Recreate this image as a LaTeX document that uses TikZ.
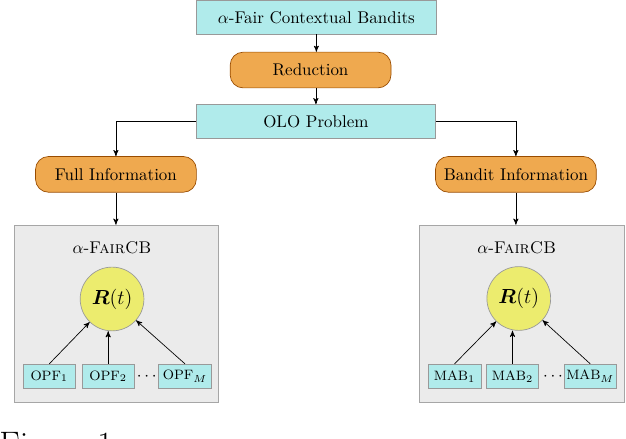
\documentclass[tikz,border=0pt]{standalone}
\usepackage{amsmath,bm}
\usetikzlibrary{arrows}
\definecolor{boxcyan}{RGB}{176,235,235}
\definecolor{steporange}{RGB}{239,169,79}
\definecolor{ryellow}{RGB}{236,236,110}
\definecolor{panelgray}{RGB}{235,235,235}

\begin{document}
\begin{tikzpicture}[>=stealth',
            problem/.style={draw=gray!80, fill=boxcyan, minimum width=4.95cm, minimum height=0.69cm},
            reduce/.style={draw=orange!60!black, fill=steporange, rounded corners=0.27cm, minimum width=3.33cm, minimum height=0.74cm},
            panel/.style={draw=gray!70, fill=panelgray, minimum width=4.24cm, minimum height=3.68cm},
            learner/.style={draw=gray!80, fill=boxcyan, font=\footnotesize, minimum width=1.09cm, minimum height=0.5cm, inner sep=1pt},
            agg/.style={circle, draw=gray!80, fill=ryellow, minimum size=1.32cm, inner sep=0pt, font=\large}]
            \useasboundingbox (0, 0) rectangle (12.96, 9.07);
            %\draw[lightgray] (0, 0) grid (13, 9);
            \node[problem] (fcb) at (6.55, 8.71) {\(\alpha\)-Fair Contextual Bandits};
            \node[reduce] (red) at (6.43, 7.62) {Reduction};
            \node[problem] (olo) at (6.54, 6.56) {OLO Problem};
            \node[reduce] (full) at (2.40, 5.46) {Full Information};
            \node[reduce] (bandit) at (10.68, 5.46) {Bandit Information};
            \draw[->] (fcb) -- (red.north -| fcb);
            \draw[->] (red.south -| olo) -- (olo);
            \draw[->] (olo.west) -| (full);
            \draw[->] (olo.east) -| (bandit);

            % full information side
            \node[panel] (lpanel) at (2.41, 2.57) {};
            \node (lname) at (2.32, 3.95) {\(\alpha\)-\textsc{FairCB}};
            \node[agg] (lrt) at (2.32, 2.88) {\(\bm{R}(t)\)};
            \node[learner] (opf1) at (1.02, 1.28) {OPF\(_1\)};
            \node[learner] (opf2) at (2.24, 1.28) {OPF\(_2\)};
            \node (ldots) at (3.04, 1.28) {\(\cdots\)};
            \node[learner] (opfm) at (3.83, 1.28) {OPF\(_M\)};
            \draw[->] (full) -- (full |- lpanel.north);
            \draw[->] (opf1.north) -- (lrt);
            \draw[->] (opf2) -- (opf2 |- lrt.south);
            \draw[->] (opfm.north) -- (lrt);

            % bandit information side
            \node[panel] (rpanel) at (10.80, 2.57) {};
            \node (rname) at (10.70, 3.95) {\(\alpha\)-\textsc{FairCB}};
            \node[agg] (rrt) at (10.74, 2.89) {\(\bm{R}(t)\)};
            \node[learner] (mab1) at (9.41, 1.28) {MAB\(_1\)};
            \node[learner] (mab2) at (10.61, 1.28) {MAB\(_2\)};
            \node (rdots) at (11.45, 1.28) {\(\cdots\)};
            \node[learner] (mabm) at (12.22, 1.28) {MAB\(_M\)};
            \draw[->] (bandit) -- (bandit |- rpanel.north);
            \draw[->] (mab1.north) -- (rrt);
            \draw[->] (mab2) -- (mab2 |- rrt.south);
            \draw[->] (mabm.north) -- (rrt);

            \node[anchor=base west, inner sep=0pt] (cap) at (-0.02, -0.36) {\fontsize{20}{24}\selectfont Figure 1:};
        \end{tikzpicture}
\end{document}
